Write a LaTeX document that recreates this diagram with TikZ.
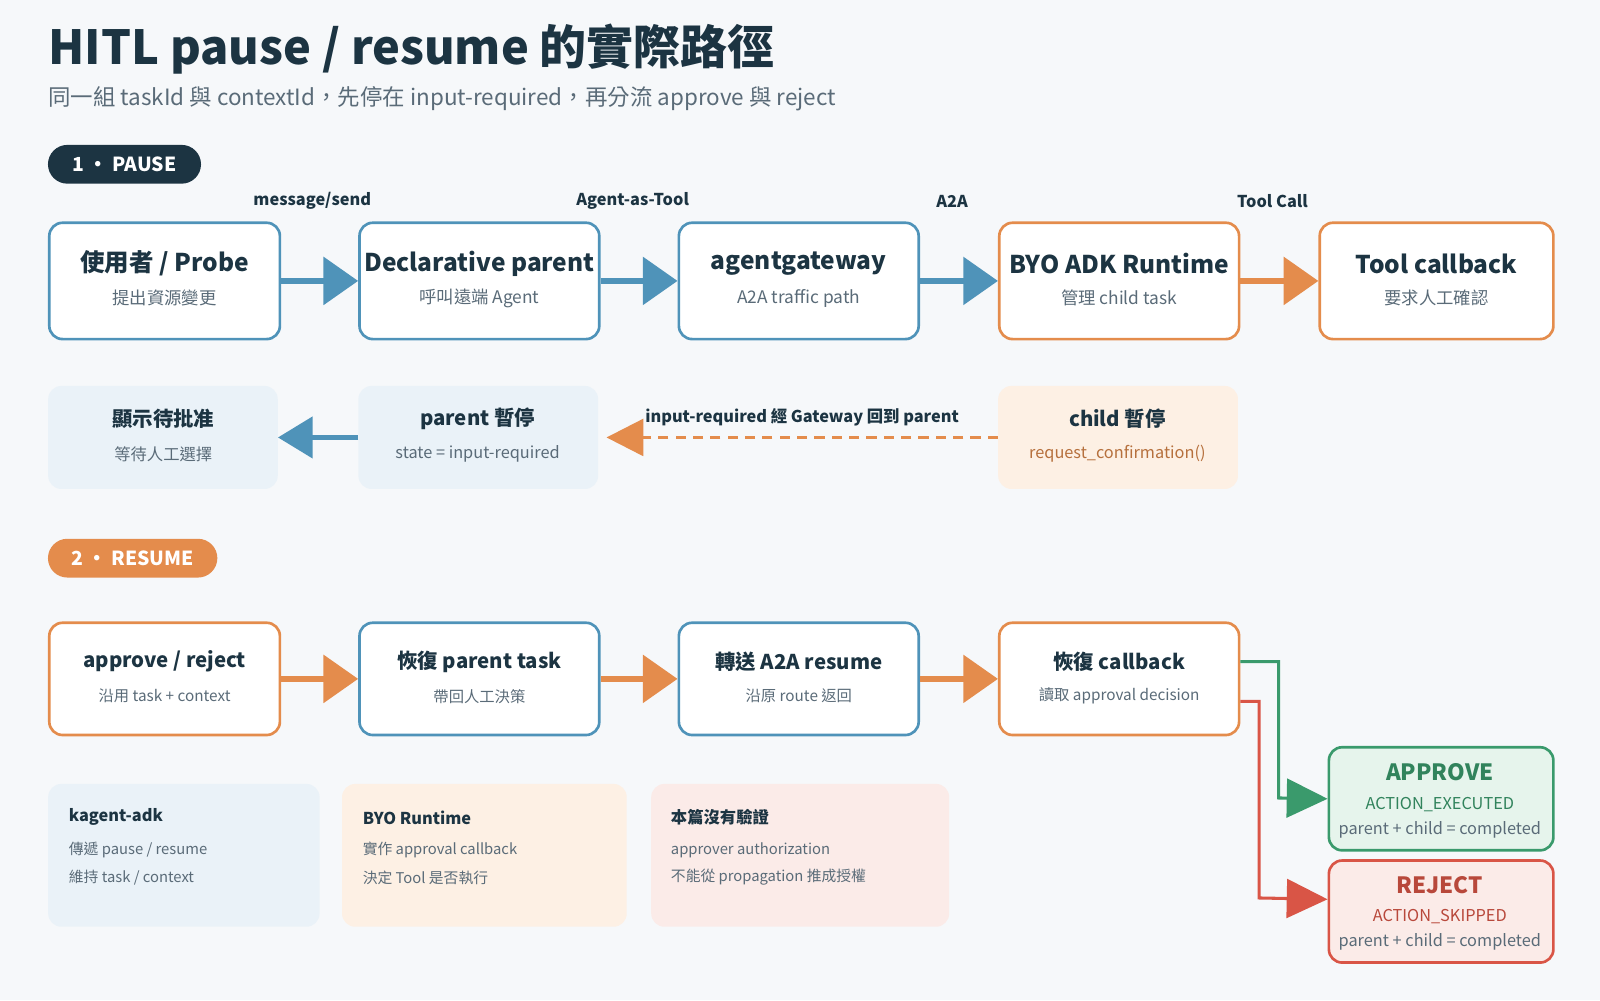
\documentclass[tikz,border=0pt]{standalone}
\usepackage{fontspec}
\setmainfont{Noto Sans CJK TC}
\usetikzlibrary{arrows.meta}
\definecolor{ink}{HTML}{1C3442}
\definecolor{sub}{HTML}{5A6B78}
\definecolor{blu}{HTML}{4F93B9}
\definecolor{org}{HTML}{E48C4C}
\definecolor{grn}{HTML}{3A9A6C}
\definecolor{red}{HTML}{D95546}
\definecolor{lb}{HTML}{EAF2F8}
\definecolor{lo}{HTML}{FDF0E4}
\definecolor{lr}{HTML}{FBEBE8}
\definecolor{lg}{HTML}{E6F4EC}
\definecolor{bg}{HTML}{F6F8FA}
\tikzset{x=1pt,y=-1pt,
 box/.style={draw,line width=2.6pt,rounded corners=13pt,fill=white},
 soft/.style={rounded corners=13pt},
 ttl/.style={font=\fontsize{24}{28}\selectfont\bfseries,text=ink},
 st/.style={font=\fontsize{17}{20}\selectfont,text=sub},
 lab/.style={font=\fontsize{16}{19}\selectfont\bfseries,text=ink},
 big/.style={line width=6pt,-{Triangle[length=34pt,width=46pt]}},
 nt/.style={font=\fontsize{16}{19}\selectfont\bfseries,text=ink,anchor=west},
 nl/.style={font=\fontsize{14.5}{17}\selectfont,text=sub,anchor=west},
}
\newcommand{\bx}[8]{% name,x1,y1,x2,y2,color,title,subtitle
 \node[box,draw=#6,minimum width=#4pt-#2pt,minimum height=#5pt-#3pt,anchor=north west] (#1) at (#2,#3) {};
 \node[ttl] at ([yshift=17pt]#1.center) {#7};
 \node[st] at ([yshift=-17pt]#1.center) {#8};}
\begin{document}
\begin{tikzpicture}
\fill[bg] (0,0) rectangle (1568,980);
\useasboundingbox (0,0) rectangle (1568,980);
\node[anchor=west,font=\fontsize{46}{50}\selectfont\bfseries,text=ink] (title) at (44,48) {HITL pause / resume 的實際路徑};
\node[anchor=west,font=\fontsize{22}{26}\selectfont,text=sub] (subt) at (44,97) {同一組 taskId 與 contextId，先停在 input-required，再分流 approve 與 reject};
\node[fill=ink,text=white,rounded corners=19pt,minimum width=150pt,minimum height=38pt,font=\fontsize{19}{22}\selectfont\bfseries] (p1) at (122,161) {1 · PAUSE};
\node[fill=org,text=white,rounded corners=19pt,minimum width=166pt,minimum height=38pt,font=\fontsize{19}{22}\selectfont\bfseries] (p2) at (130,547) {2 · RESUME};
% row 1
\bx{a}{47}{217}{273}{331}{blu}{使用者 / Probe}{提出資源變更}
\bx{b}{351}{217}{586}{331}{blu}{Declarative parent}{呼叫遠端 Agent}
\bx{c}{664}{217}{899}{331}{blu}{agentgateway}{A2A traffic path}
\bx{d}{978}{217}{1213}{331}{org}{BYO ADK Runtime}{管理 child task}
\bx{e}{1292}{217}{1521}{331}{org}{Tool callback}{要求人工確認}
\draw[big,blu] (a.east) -- (b.west);
\draw[big,blu] (b.east) -- (c.west);
\draw[big,blu] (c.east) -- (d.west);
\draw[big,org] (d.east) -- (e.west);
\node[lab] at (306,197) {message/send};
\node[lab] at (620,197) {Agent-as-Tool};
\node[lab] at (933,197) {A2A};
\node[lab] at (1247,197) {Tool Call};
% row 2
\node[soft,fill=lb,minimum width=225pt,minimum height=101pt,anchor=north west] (f) at (47,378) {};
\node[soft,fill=lb,minimum width=235pt,minimum height=101pt,anchor=north west] (g) at (351,378) {};
\node[soft,fill=lo,minimum width=235pt,minimum height=101pt,anchor=north west] (h) at (978,378) {};
\node[ttl,font=\fontsize{20}{24}\selectfont\bfseries] at (160,410) {顯示待批准};
\node[st,font=\fontsize{16}{19}\selectfont] at (160,445) {等待人工選擇};
\node[ttl,font=\fontsize{20}{24}\selectfont\bfseries] at (468,410) {parent 暫停};
\node[st,font=\fontsize{16}{19}\selectfont] at (468,445) {state = input-required};
\node[ttl,font=\fontsize{20}{24}\selectfont\bfseries] at (1095,410) {child 暫停};
\node[st,font=\fontsize{16}{19}\selectfont,text=org!80!black] at (1095,445) {request\_confirmation()};
\draw[line width=5pt,blu,-{Triangle[length=34pt,width=40pt]}] (g.west) -- (f.east);
\draw[line width=3pt,org,dash pattern=on 10pt off 7pt,-{Triangle[length=36pt,width=36pt]}] (h.west) -- ([xshift=8pt]g.east);
\node[lab] at (786,409) {input-required 經 Gateway 回到 parent};
% row 3
\bx{i}{47}{609}{273}{719}{org}{\fontsize{20}{24}\selectfont approve / reject}{\fontsize{15}{18}\selectfont 沿用 task + context}
\bx{j}{351}{609}{586}{719}{blu}{\fontsize{20}{24}\selectfont 恢復 parent task}{\fontsize{15}{18}\selectfont 帶回人工決策}
\bx{k}{664}{609}{899}{719}{blu}{\fontsize{20}{24}\selectfont 轉送 A2A resume}{\fontsize{15}{18}\selectfont 沿原 route 返回}
\bx{l}{978}{609}{1213}{719}{org}{\fontsize{20}{24}\selectfont 恢復 callback}{\fontsize{15}{18}\selectfont 讀取 approval decision}
\draw[big,org] (i.east) -- (j.west);
\draw[big,org] (j.east) -- (k.west);
\draw[big,org] (k.east) -- (l.west);
% outcomes
\node[box,draw=grn,fill=lg,minimum width=220pt,minimum height=101pt,anchor=north west] (m) at (1301,731) {};
\node[font=\fontsize{22}{26}\selectfont\bfseries,text=grn!85!black] at (1411,757) {APPROVE};
\node[font=\fontsize{16}{19}\selectfont,text=grn!85!black] at (1411,788) {ACTION\_EXECUTED};
\node[st,font=\fontsize{16}{19}\selectfont] at (1411,813) {parent + child = completed};
\node[box,draw=red,fill=lr,minimum width=220pt,minimum height=100pt,anchor=north west] (n) at (1301,842) {};
\node[font=\fontsize{22}{26}\selectfont\bfseries,text=red!85!black] at (1411,867) {REJECT};
\node[font=\fontsize{16}{19}\selectfont,text=red!85!black] at (1411,898) {ACTION\_SKIPPED};
\node[st,font=\fontsize{16}{19}\selectfont] at (1411,923) {parent + child = completed};
\draw[line width=3pt,grn,-{Triangle[length=40pt,width=38pt]}] ([yshift=17pt]l.east) -| (1253,782) -- (m.west);
\draw[line width=3pt,red,-{Triangle[length=40pt,width=38pt]}] ([yshift=-22pt]l.east) -| (1234,880) -- ([yshift=12pt]n.west);
% notes
\node[soft,fill=lb,minimum width=266pt,minimum height=140pt,anchor=north west] (o) at (47,768) {};
\node[soft,fill=lo,minimum width=279pt,minimum height=140pt,anchor=north west] (q) at (335,768) {};
\node[soft,fill=lr,minimum width=292pt,minimum height=140pt,anchor=north west] (r) at (638,768) {};
\node[nt] at (64,801) {kagent-adk};
\node[nl] at (64,833) {傳遞 pause / resume};
\node[nl] at (64,860) {維持 task / context};
\node[nt] at (352,801) {BYO Runtime};
\node[nl] at (352,833) {實作 approval callback};
\node[nl] at (352,860) {決定 Tool 是否執行};
\node[nt] at (654,801) {本篇沒有驗證};
\node[nl] at (654,833) {approver authorization};
\node[nl] at (654,860) {不能從 propagation 推成授權};
\end{tikzpicture}
\end{document}
